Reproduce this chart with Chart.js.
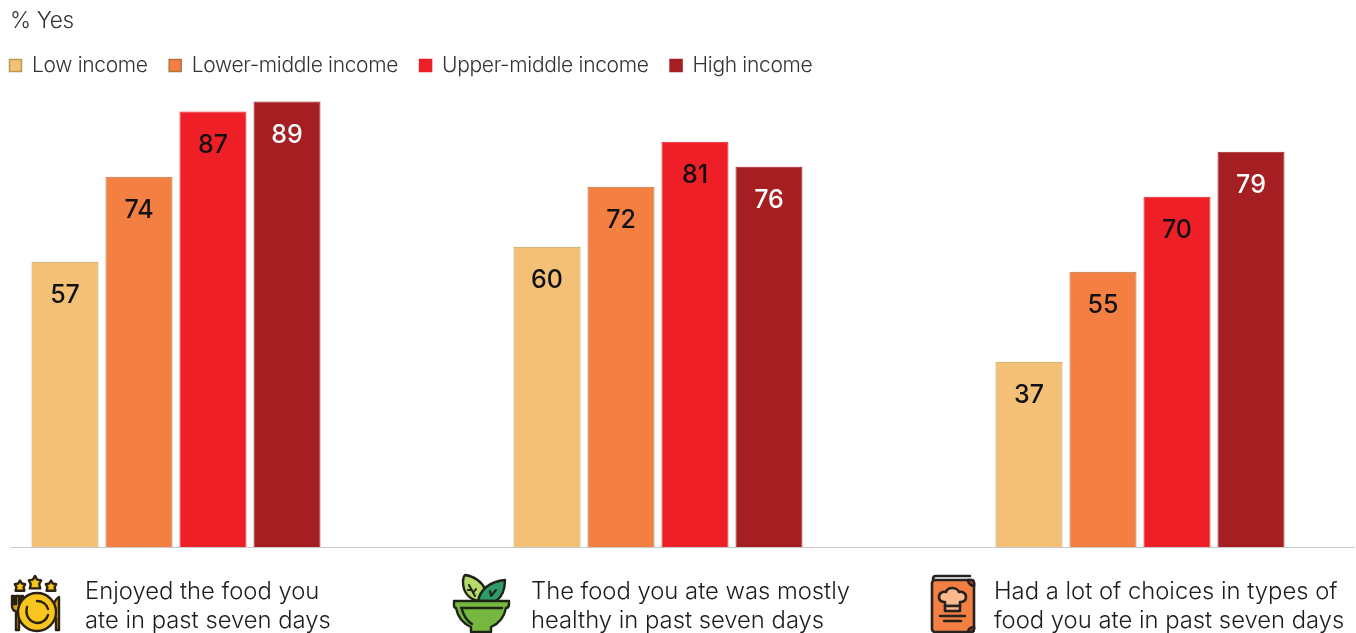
<!DOCTYPE html>
<html>
<head>
<meta charset="utf-8">
<style>
  html, body { margin: 0; padding: 0; background: #fff; }
  #wrap { position: relative; width: 1356px; height: 633px; overflow: hidden; }
  #wrap canvas { position: absolute; left: 0; top: 0; }
  .icon { position: absolute; left: 0; top: 0; }
</style>
<script src="https://cdn.jsdelivr.net/npm/chart.js@4"></script>
</head>
<body>
<div id="wrap">
  <canvas id="chart" width="1356" height="633"></canvas>
  <svg class="icon" width="1356" height="633" viewBox="0 0 1356 633">
    <!-- plate with stars, fork and knife -->
    <g stroke="#2b2110" stroke-width="2.4" stroke-linejoin="round" stroke-linecap="round">
      <path fill="#f7c51e" d="M20 580.5l1.8 3 3.4.6-1.6 3 .8 3.6h-8.8l.8-3.6-1.6-3 3.4-.6z"/>
      <path fill="#f7c51e" d="M35 576l2.2 3.6 4 .8-2 3.6 1 4.4H29.8l1-4.4-2-3.6 4-.8z"/>
      <path fill="#f7c51e" d="M51 580.5l1.8 3 3.4.6-1.6 3 .8 3.6h-8.8l.8-3.6-1.6-3 3.4-.6z"/>
      <path fill="#d99a1c" d="M12 596v10c0 3 2.2 5 4 5.500V630h3v-18.500c1.800-.5 4-2.500 4-5.500v-10h-2v8h-2v-8h-3v8h-2v-8z"/>
      <path fill="#d99a1c" d="M59 597c-4 2-6 8-6 15 0 3 1 5 3 6v12h3z"/>
      <circle cx="37" cy="612" r="19" fill="#f7c51e"/>
      <path fill="none" d="M27 607c-2 8 2 15 10 16 6 0 10-4 11-8"/>
      <path fill="none" d="M37 601c5 0 10 3 11 8"/>
    </g>
    <!-- salad bowl with two leaves -->
    <g stroke="#1d2416" stroke-width="2.400" stroke-linejoin="round" stroke-linecap="round">
      <path fill="#b6d96b" d="M478 601c-8-2-15-8-15-19 0-5 1-6 2-7 9 1 17 7 20 14 1 4-1 9-3 12z"/>
      <path fill="#2f9b6b" d="M478 601c2-11 12-20 27-21 0 11-3 17-9 21z"/>
      <path fill="none" stroke-width="2" d="M469 585l6 11M472 590h-4M473 593l3-4M491 596l5-6M491 596l-1-5"/>
      <path fill="#76b83f" d="M454 601h55v3c0 3-1 4-3 4-2 10-8 16-15 19v5h-20v-5c-7-3-13-9-15-19-2 0-2-1-2-4z"/>
      <path fill="none" d="M461 608h41"/>
      <path fill="none" d="M462 610c2 6 5 11 10 14"/>
    </g>
    <!-- recipe book with a chef's hat -->
    <g stroke="#26221f" stroke-width="2.600" stroke-linejoin="round" stroke-linecap="round">
      <path fill="none" d="M933 579c0-2 1-3 3-3h34"/>
      <rect x="932" y="580" width="42" height="52" rx="3" fill="#f47f42"/>
      <path fill="#d9332a" d="M968 580h3c2 0 3 1 3 3v3c-3 0-6-3-6-6zM974 627v2c0 2-1 3-3 3h-3c0-3 3-5 6-5z"/>
      <path fill="#fbb98d" d="M945 606v-4c-4 0-6-2-6-5 0-4 4-6 7-5 1-3 4-4 6-4s6 1 7 4c3-1 7 1 7 5 0 3-2 5-6 5v4z"/>
      <rect x="945" y="606" width="15" height="5" fill="#fbb98d"/>
      <path fill="none" d="M940 616h25M944 621h17"/>
    </g>
  </svg>
</div>
<script>
// Share of respondents answering yes, by income group of the country
const groupPositions = [0, 1, 2];
const categoryLines = [
  ["Enjoyed the food you", "ate in past seven days"],
  ["The food you ate was mostly", "healthy in past seven days"],
  ["Had a lot of choices in types of", "food you ate in past seven days"]
];
const seriesNames = ["Low income", "Lower-middle income", "Upper-middle income", "High income"];
const lowIncome = [57, 60, 37];
const lowerMiddleIncome = [74, 72, 55];
const upperMiddleIncome = [87, 81, 70];
const highIncome = [89, 76, 79];
const seriesValues = [lowIncome, lowerMiddleIncome, upperMiddleIncome, highIncome];

const fillColors = ["#f3c075", "#f47f42", "#ee1f26", "#a51e22"];
const edgeColors = ["#b99a55", "#b9703f", "#ee1f26", "#a51e22"];
const labelColors = ["#111111", "#111111", "#111111", "#ffffff"];
const categoryLeftOffsets = [-91, -127, -146];

const FONT = "Inter, 'Noto Sans', sans-serif";

// Tighter tracking for the title and legend text, set again once the canvas
// has been sized because resizing clears the context state
const textTracking = {
  id: "textTracking",
  beforeUpdate(chart) { chart.ctx.letterSpacing = "-0.32px"; },
  beforeDraw(chart) { chart.ctx.letterSpacing = "-0.32px"; }
};

// Value labels sit inside each bar, just under its top edge
const barValueLabels = {
  id: "barValueLabels",
  afterDatasetsDraw(chart) {
    const ctx = chart.ctx;
    ctx.save();
    ctx.letterSpacing = "0px";
    ctx.font = "500 25px " + FONT;
    ctx.textAlign = "center";
    ctx.textBaseline = "middle";
    chart.data.datasets.forEach((ds, i) => {
      chart.getDatasetMeta(i).data.forEach((bar, j) => {
        ctx.fillStyle = labelColors[i];
        ctx.fillText(String(seriesValues[i][j]), bar.x, bar.y + 34);
      });
    });
    ctx.restore();
  }
};

// Two-line captions under the axis, left-aligned beside each icon
const categoryCaptions = {
  id: "categoryCaptions",
  afterDraw(chart) {
    const ctx = chart.ctx;
    const xScale = chart.scales.x;
    ctx.save();
    ctx.letterSpacing = "0px";
    ctx.font = "300 23.8px " + FONT;
    ctx.fillStyle = "#1c1c1c";
    ctx.textAlign = "left";
    ctx.textBaseline = "middle";
    groupPositions.forEach((pos, i) => {
      const left = xScale.getPixelForValue(pos) + categoryLeftOffsets[i];
      categoryLines[i].forEach((line, k) => {
        ctx.fillText(line, left, 592 + k * 29);
      });
    });
    ctx.restore();
  }
};

// The legend's own padding would indent it; pull it back to the left margin
// and up to the line under the title
const legendMargin = {
  id: "legendMargin",
  afterLayout(chart) {
    chart.legend.left = -12;
    chart.legend.top -= 10.5;
  }
};

new Chart(document.getElementById("chart"), {
  type: "bar",
  data: {
    datasets: seriesNames.map((name, i) => ({
      label: name,
      data: groupPositions.map((pos, j) => ({ x: pos, y: seriesValues[i][j] })),
      backgroundColor: fillColors[i],
      borderColor: edgeColors[i],
      borderWidth: 1,
      categoryPercentage: 0.6141,
      barPercentage: 0.905
    }))
  },
  plugins: [textTracking, barValueLabels, categoryCaptions, legendMargin],
  options: {
    responsive: false,
    animation: false,
    layout: { padding: { left: 10, right: 2, top: 0, bottom: 78 } },
    scales: {
      x: {
        type: "linear",
        offset: false,
        min: -0.3444,
        max: 2.4440,
        afterBuildTicks(axis) { axis.ticks = groupPositions.map(v => ({ value: v })); },
        ticks: { display: false },
        grid: { display: false },
        border: { display: true, color: "#c9c9c9", width: 1 }
      },
      y: { display: false, min: 0, max: 90 }
    },
    plugins: {
      tooltip: { enabled: false },
      title: {
        display: true,
        text: "% Yes",
        align: "start",
        color: "#333333",
        font: { family: FONT, size: 22.5, weight: "300" },
        padding: { top: 8, bottom: 9.1 }
      },
      legend: {
        display: true,
        position: "top",
        align: "start",
        labels: {
          boxWidth: 12,
          boxHeight: 12,
          padding: 21.5,
          color: "#333333",
          font: { family: FONT, size: 21, weight: "300" },
          generateLabels(chart) {
            return Chart.defaults.plugins.legend.labels.generateLabels(chart)
              .map(item => ({ ...item, lineWidth: 1.5 }));
          }
        }
      }
    }
  }
});
</script>
</body>
</html>
